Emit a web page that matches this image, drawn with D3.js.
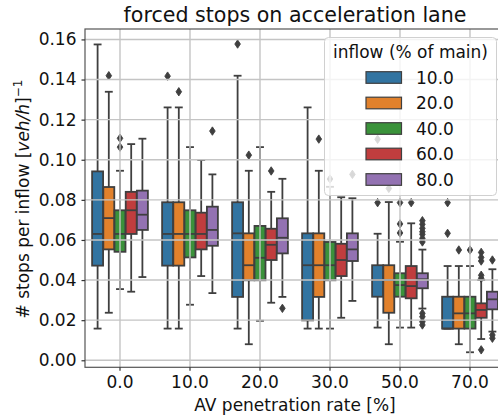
<!DOCTYPE html>
<html>
  <head>
    <meta charset="UTF-8">
    <title>forced stops</title>
    <style>
body{
    margin: 0;
    background: #fff;
}
svg{
    display: block;
    font-family: "DejaVu Sans", sans-serif;
}
    </style>
  </head>
  <body>
    <script src="https://cdn.jsdelivr.net/npm/d3@7"></script>
    <script>
var categories = ["0.0", "10.0", "20.0", "30.0", "50.0", "70.0"];
var hues = ["10.0", "20.0", "40.0", "60.0", "80.0"];
var colors = ["#3274a1", "#e1812c", "#3a923a", "#c03d3e", "#9372b2"];
var yTicks = [0.00, 0.02, 0.04, 0.06, 0.08, 0.10, 0.12, 0.14, 0.16];

// one row per AV rate, one column per inflow
var whiskHi = [
    [0.1575, 0.1339, 0.0945, 0.1078, 0.1105],
    [0.1261, 0.1261, 0.1063, 0.0999, 0.0927],
    [0.1419, 0.0945, 0.1063, 0.0840, 0.0905],
    [0.1261, 0.0945, 0.0865, 0.0813, 0.0808],
    [0.0631, 0.0789, 0.0591, 0.0683, 0.0552],
    [0.0470, 0.0470, 0.0470, 0.0400, 0.0454]
];
var q3 = [
    [0.0942, 0.0864, 0.0748, 0.0840, 0.0846],
    [0.0788, 0.0788, 0.0748, 0.0736, 0.0766],
    [0.0788, 0.0633, 0.0670, 0.0656, 0.0708],
    [0.0633, 0.0633, 0.0590, 0.0581, 0.0633],
    [0.0474, 0.0474, 0.0434, 0.0470, 0.0434],
    [0.0317, 0.0317, 0.0317, 0.0284, 0.0342]
];
var median = [
    [0.0630, 0.0709, 0.0630, 0.0748, 0.0726],
    [0.0630, 0.0630, 0.0630, 0.0630, 0.0650],
    [0.0633, 0.0474, 0.0511, 0.0576, 0.0611],
    [0.0474, 0.0474, 0.0474, 0.0500, 0.0553],
    [0.0400, 0.0400, 0.0375, 0.0370, 0.0404],
    [0.0158, 0.0234, 0.0234, 0.0251, 0.0304]
];
var q1 = [
    [0.0472, 0.0553, 0.0541, 0.0630, 0.0650],
    [0.0472, 0.0472, 0.0513, 0.0553, 0.0571],
    [0.0316, 0.0399, 0.0399, 0.0500, 0.0533],
    [0.0199, 0.0316, 0.0399, 0.0420, 0.0495],
    [0.0317, 0.0237, 0.0317, 0.0309, 0.0359],
    [0.0158, 0.0158, 0.0158, 0.0212, 0.0254]
];
var whiskLo = [
    [0.0158, 0.0237, 0.0355, 0.0342, 0.0415],
    [0.0158, 0.0158, 0.0277, 0.0420, 0.0335],
    [0.0158, 0.0080, 0.0197, 0.0287, 0.0316],
    [0.0158, 0.0158, 0.0158, 0.0212, 0.0296],
    [0.0163, 0.0080, 0.0163, 0.0163, 0.0258],
    [0.0158, 0.0080, 0.0040, 0.0106, 0.0143]
];
var outliers = [
    [[], [0.1419], [0.1107, 0.1063], [], []],
    [[0.1417], [0.1339], [], [], [0.1143]],
    [[0.1577], [0.1023], [], [0.0944], [0.0259]],
    [[], [0.1103], [0.0904], [], [0.0927]],
    [[0.1102, 0.0786], [0.0857], [0.0786, 0.0680, 0.0635], [0.0786],
     [0.0696, 0.0678, 0.0658, 0.0641, 0.0628, 0.0608, 0.0590, 0.0234, 0.0217, 0.0192, 0.0176]],
    [[0.0786, 0.0633], [0.0550], [0.0550], [0.0538, 0.0513, 0.0495, 0.0424, 0.0409, 0.0052], [0.0500, 0.0126, 0.0110]]
];

var width = 498, height = 419;
var plotLeft = 85, plotRight = 505, plotTop = 29, plotBottom = 367.3;
var edge = "#3f3f3f";

var svg = d3.select("body").append("svg")
    .attr("width", width)
    .attr("height", height);

var x = d3.scaleBand().domain(categories).range([plotLeft, plotRight]);
var xHue = d3.scaleBand().domain(hues).range([-28, 28]);
var y = d3.scaleLinear().domain([-0.0035, 0.1652]).range([plotBottom, plotTop]);
var bw = xHue.bandwidth() * 0.98;

// boxes
var rows = [];
categories.forEach(function(c, i){
    hues.forEach(function(h, j){
        rows.push({c: c, h: h, i: i, j: j,
            cx: x(c) + x.bandwidth() / 2 + xHue(h) + xHue.bandwidth() / 2});
    });
});

var g = svg.append("g");
rows.forEach(function(d){
    var b = g.append("g");
    var cx = d.cx;
    b.append("line")
        .attr("x1", cx).attr("x2", cx)
        .attr("y1", y(whiskHi[d.i][d.j])).attr("y2", y(q3[d.i][d.j]))
        .attr("stroke", edge).attr("stroke-width", 1.8);
    b.append("line")
        .attr("x1", cx).attr("x2", cx)
        .attr("y1", y(whiskLo[d.i][d.j])).attr("y2", y(q1[d.i][d.j]))
        .attr("stroke", edge).attr("stroke-width", 1.8);
    [whiskHi[d.i][d.j], whiskLo[d.i][d.j]].forEach(function(v){
        b.append("line")
            .attr("x1", cx - bw / 4 - 1.2).attr("x2", cx + bw / 4 + 1.2)
            .attr("y1", y(v)).attr("y2", y(v))
            .attr("stroke", edge).attr("stroke-width", 1.8);
    });
    b.append("rect")
        .attr("x", cx - bw / 2)
        .attr("y", y(q3[d.i][d.j]))
        .attr("width", bw)
        .attr("height", Math.max(0.5, y(q1[d.i][d.j]) - y(q3[d.i][d.j])))
        .attr("fill", colors[d.j])
        .attr("stroke", edge).attr("stroke-width", 1.8);
    b.append("line")
        .attr("x1", cx - bw / 2).attr("x2", cx + bw / 2)
        .attr("y1", y(median[d.i][d.j])).attr("y2", y(median[d.i][d.j]))
        .attr("stroke", edge).attr("stroke-width", 1.8);
    b.selectAll("path.flier").data(outliers[d.i][d.j]).enter().append("path")
        .attr("class", "flier")
        .attr("d", function(v){
            var py = y(v);
            return "M" + cx + "," + (py - 4.2) + "L" + (cx + 2.8) + "," + py +
                   "L" + cx + "," + (py + 4.2) + "L" + (cx - 2.8) + "," + py + "Z";
        })
        .attr("fill", edge)
        .attr("stroke", edge).attr("stroke-width", 0.9);
});

// grid on top of boxes
var grid = svg.append("g").attr("stroke", "#c4c4c4").attr("stroke-width", 1.4);
yTicks.forEach(function(t){
    grid.append("line")
        .attr("x1", plotLeft).attr("x2", plotRight)
        .attr("y1", y(t)).attr("y2", y(t));
});
categories.forEach(function(c){
    var cx = x(c) + x.bandwidth() / 2;
    grid.append("line")
        .attr("x1", cx).attr("x2", cx)
        .attr("y1", plotTop).attr("y2", plotBottom);
});

// frame
svg.append("rect")
    .attr("x", plotLeft).attr("y", plotTop)
    .attr("width", plotRight - plotLeft).attr("height", plotBottom - plotTop)
    .attr("fill", "none").attr("stroke", "#555").attr("stroke-width", 1.2);

// axes
var yAxis = svg.append("g")
    .attr("transform", "translate(" + plotLeft + ",0)")
    .call(d3.axisLeft(y).tickValues(yTicks).tickFormat(d3.format(".2f")).tickSize(3.5).tickPadding(5));
var xAxis = svg.append("g")
    .attr("transform", "translate(0," + plotBottom + ")")
    .call(d3.axisBottom(x).tickSize(3.5).tickPadding(5));
[yAxis, xAxis].forEach(function(a){
    a.select(".domain").remove();
    a.selectAll(".tick line").attr("stroke", "#333").attr("stroke-width", 1.2);
    a.selectAll(".tick text")
        .attr("fill", "#111")
        .style("font-size", "17px")
        .style("font-family", "DejaVu Sans");
});

// titles
svg.append("text")
    .attr("x", (plotLeft + plotRight) / 2).attr("y", 22)
    .attr("text-anchor", "middle")
    .style("font-size", "20.6px")
    .attr("fill", "#111")
    .text("forced stops on acceleration lane");

svg.append("text")
    .attr("x", (plotLeft + plotRight) / 2).attr("y", 411)
    .attr("text-anchor", "middle")
    .style("font-size", "17px")
    .attr("fill", "#111")
    .text("AV penetration rate [%]");

var yl = svg.append("text")
    .attr("transform", "translate(29,199) rotate(-90)")
    .attr("text-anchor", "middle")
    .style("font-size", "17px")
    .attr("fill", "#111");
yl.append("tspan").text("# stops per inflow [");
yl.append("tspan").style("font-style", "italic").text("veh/h");
yl.append("tspan").text("]");
yl.append("tspan").attr("dy", -7).style("font-size", "12px").text("\u22121");

// legend
var lg = svg.append("g");
lg.append("rect")
    .attr("x", 324.5).attr("y", 37.5)
    .attr("width", 172).attr("height", 158)
    .attr("rx", 4)
    .attr("fill", "#fff").attr("fill-opacity", 0.8)
    .attr("stroke", "#d0d0d0");
lg.append("text")
    .attr("x", 410.5).attr("y", 58)
    .attr("text-anchor", "middle")
    .style("font-size", "17px")
    .attr("fill", "#111")
    .text("inflow (% of main)");
hues.forEach(function(h, j){
    var cy = 77.5 + j * 25.5;
    lg.append("rect")
        .attr("x", 366).attr("y", cy - 5.8)
        .attr("width", 35.5).attr("height", 11.6)
        .attr("fill", colors[j])
        .attr("stroke", edge).attr("stroke-width", 1.2);
    lg.append("text")
        .attr("x", 416).attr("y", cy + 6)
        .style("font-size", "17px")
        .attr("fill", "#111")
        .text(h);
});
    </script>
  </body>
</html>
